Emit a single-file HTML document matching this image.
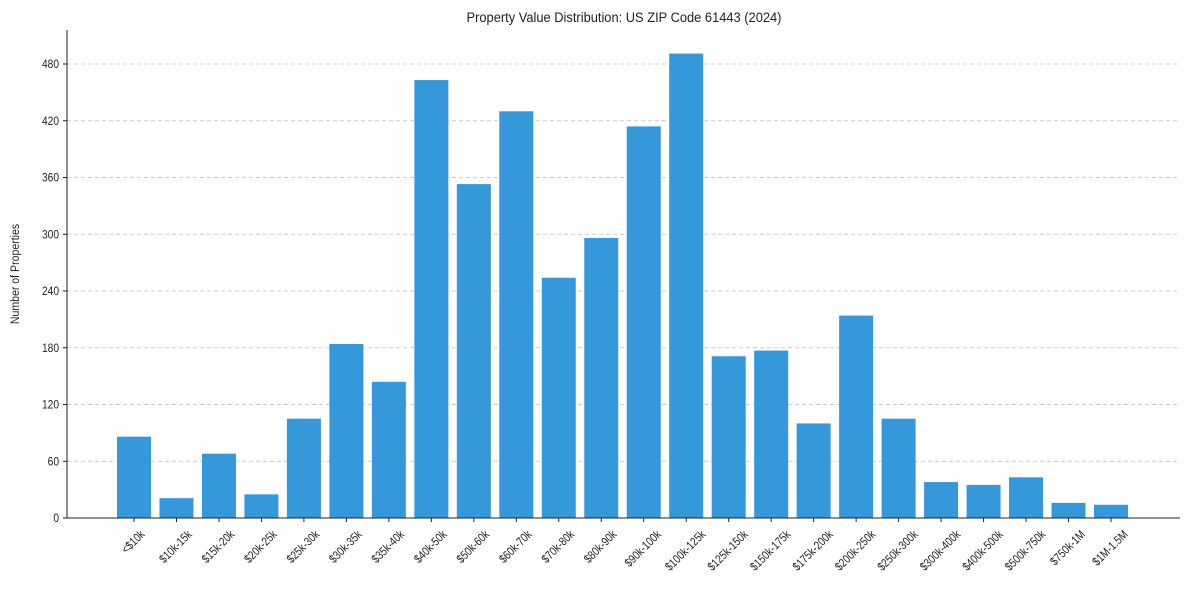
<!DOCTYPE html>
<html><head><meta charset="utf-8"><style>
html,body{margin:0;padding:0;background:#fff;}
svg{display:block;font-family:"Liberation Sans",Arial,sans-serif;}
</style></head><body>
<svg id="chart" width="1189" height="590">
<text transform="translate(624,22) scale(0.92,1)" text-anchor="middle" font-size="14" fill="#222">Property Value Distribution: US ZIP Code 61443 (2024)</text>
<text transform="translate(19,274) rotate(-90) scale(0.88,1)" text-anchor="middle" font-size="12" fill="#222">Number of Properties</text>
<g id="grid"></g><g id="bars"></g><g id="axes"></g>
</svg>
<script>
const categories=["<$10k","$10k-15k","$15k-20k","$20k-25k","$25k-30k","$30k-35k","$35k-40k","$40k-50k","$50k-60k","$60k-70k","$70k-80k","$80k-90k","$90k-100k","$100k-125k","$125k-150k","$150k-175k","$175k-200k","$200k-250k","$250k-300k","$300k-400k","$400k-500k","$500k-750k","$750k-1M","$1M-1.5M"];
const values=[86,21,68,25,105,184,144,463,353,430,254,296,414,491,171,177,100,214,105,38,35,43,16,14];
const yTicks=[0,60,120,180,240,300,360,420,480];
const NS="http://www.w3.org/2000/svg";
const L=67,R=1180,T=30,B=518;
const y=v=>B-v*(454/480);
const x=i=>134+i*(1111-134)/23;
const bw=34;
function mk(t,a,p){const e=document.createElementNS(NS,t);for(const k in a)e.setAttribute(k,a[k]);p.appendChild(e);return e;}
const grid=document.getElementById('grid'),bars=document.getElementById('bars'),axes=document.getElementById('axes');
yTicks.forEach(v=>{
  if(v>0){const g=mk('line',{x1:L,x2:R,y1:y(v),y2:y(v),stroke:'#ccc','stroke-dasharray':'4,3','stroke-width':1},grid);
  
  }
  const tk=mk('line',{x1:L-4,x2:L,y1:y(v),y2:y(v),stroke:'#222'},axes);
  
  
  const t=mk('text',{transform:`translate(${L-8},${y(v)+4}) scale(0.85,1)`,'text-anchor':'end','font-size':12,fill:'#222'},axes);
  t.textContent=v;
  
  
});
values.forEach((v,i)=>{
  const r=mk('rect',{x:x(i)-bw/2,y:y(v),width:bw,height:B-y(v),fill:'#3498db'},bars);
  
  
  const tk=mk('line',{x1:x(i),x2:x(i),y1:B,y2:B+4,stroke:'#222'},axes);
  
  
  const t=mk('text',{'text-anchor':'middle','font-size':12,fill:'#222',y:4},axes);
  t.textContent=categories[i];
  
  
  const w=t.getComputedTextLength()*0.82;
  const cy=B+10+(w+12)/(2*Math.SQRT2);
  t.setAttribute('transform',`translate(${x(i)-1},${cy}) rotate(-45) scale(0.82,1)`);
});
const ya=mk('line',{x1:L,x2:L,y1:T,y2:B,stroke:'#222'},axes);


const xa=mk('line',{x1:L,x2:R,y1:B,y2:B,stroke:'#222'},axes);


</script>
</body></html>
